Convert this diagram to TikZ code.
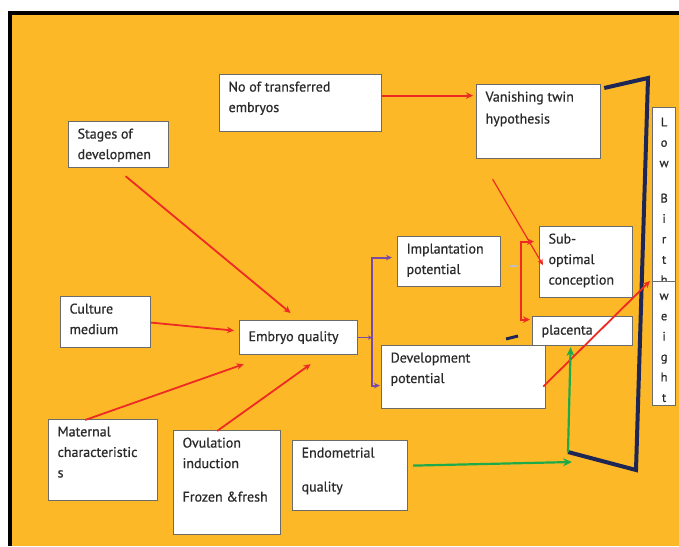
\documentclass[tikz,border=0pt]{standalone}
\usepackage{fontspec}
\setmainfont{PT Sans}[FakeBold=0.6]
\usetikzlibrary{arrows.meta,calc}
\definecolor{bgor}{HTML}{FDB827}
\definecolor{rd}{HTML}{EE2A24}
\definecolor{pu}{HTML}{7A4BA6}
\definecolor{gr}{HTML}{1DAA4A}
\definecolor{nv}{HTML}{1E2656}
\definecolor{bxl}{HTML}{6B6B6B}
\definecolor{txt}{HTML}{2A2A2A}
\newcommand{\bxt}[4]{\parbox[c][#2pt][#3]{#1pt}{\raggedright #4}}
\begin{document}
\begin{tikzpicture}[x=1pt,y=-1pt,
  box/.style={draw=bxl, line width=1.2pt, fill=white, text=txt, inner xsep=9pt, inner ysep=7pt,
    anchor=north west, font=\fontsize{14}{20.5}\selectfont},
  lbw/.style={draw=bxl, line width=1.2pt, fill=white, text=txt, inner xsep=0pt, anchor=north west,
    font=\fontsize{12.5}{20.4}\selectfont},
  ra/.style={draw=rd, line width=1.8pt, -{Stealth[length=7pt,width=6.5pt]}},
  rthin/.style={draw=rd, line width=1.2pt, -{Stealth[length=6pt,width=5.5pt]}},
  rb2/.style={draw=rd, line width=1.8pt, {Stealth[length=7pt,width=6.5pt]}-{Stealth[length=7pt,width=6.5pt]}},
  pa/.style={draw=pu, line width=1.8pt, {Stealth[length=6pt,width=5.5pt]}-{Stealth[length=6pt,width=5.5pt]}},
  pas/.style={draw=pu, line width=1.6pt, -{Stealth[length=4pt,width=4.5pt]}},
  ga/.style={draw=gr, line width=2.2pt, -{Stealth[length=9pt,width=8pt]}},
  nvl/.style={draw=nv, line width=4pt, line join=miter},
]
\useasboundingbox (0,0) rectangle (679,546);
\fill[white] (0,0) rectangle (679,546);
\fill[bgor] (8,11) rectangle (679,546);
\draw[line width=4pt] (10,546) -- (10,13) -- (679,13);

% boxes
\node[box] (trans) at (219,74) {\bxt{144}{43}{t}{No of transferred\\embryos}};
\node[box, font=\fontsize{14}{22}\selectfont] (vanish) at (476,84) {\bxt{106}{60}{t}{Vanishing twin\\hypothesis}};
\node[box] (stages) at (68,121) {\bxt{82}{32}{t}{Stages of\\developmen}};
\node[box] (impl) at (397,236) {\bxt{85}{36}{t}{Implantation\\potential}};
\node[box] (subopt) at (539,226) {\bxt{75}{57}{t}{Sub-\\optimal\\conception}};
\node[box] (culture) at (60,296) {\bxt{72}{37}{t}{Culture\\medium}};
\node[box] (embryo) at (239,320) {\bxt{100}{20}{c}{Embryo quality}};
\node[box] (placenta) at (532,316) {\bxt{82}{15}{c}{placenta}};
\node[box] (devel) at (381,345) {\bxt{146}{49}{t}{Development\\potential}};
\node[box] (mat) at (48,419) {\bxt{91}{67}{t}{Maternal\\characteristic\\s}};
\node[box] (ovul) at (173,430) {\bxt{89}{90}{t}{Ovulation\\induction\\[13pt]Frozen \&fresh}};
\node[box] (endo) at (292,440) {\bxt{97}{56}{t}{Endometrial\\[13.5pt]quality}};
\node[lbw, inner ysep=10pt] (lbwa) at (652,107) {\parbox[c][156pt][t]{23pt}{\centering L\\o\\w\\[15pt]B\\i\\r\\t\\h}};
\node[lbw, inner ysep=12pt] (lbwb) at (652,281) {\parbox[c][100pt][t]{23pt}{\centering w\\e\\i\\g\\h\\t}};

% coordinates
\coordinate (rbx) at (521,0);
\coordinate (pbx) at (372,0);
\coordinate (nv1) at (568,452);
\coordinate (nv2) at (636,470);
\coordinate (nv3) at (648,78);
\coordinate (ge) at (572,462);
\coordinate (nd1) at (506,339);
\coordinate (nd2) at (518,336);
\coordinate (gd1) at (510,266);
\coordinate (gd2) at (517,266);
\coordinate (ra1) at ([shift={(-5,-20.5)}]subopt.west);
\coordinate (ra2) at ([shift={(-2,-11.5)}]placenta.west);
\coordinate (pa1) at ([shift={(-5,-4)}]impl.west);
\coordinate (pa2) at ([shift={(-1,8.5)}]devel.west);

% navy frame lines
\draw[nvl] (nv1) -- (nv2) -- (nv3) -- ([shift={(3,4)}]vanish.north east);
\draw[nv, line width=3pt] (nd1) -- (nd2);
\draw[black!25, line width=1.5pt] (gd1) -- (gd2);

% red arrows
\draw[ra] ([shift={(0,-7.5)}]trans.east) -- ([shift={(-3,-26)}]vanish.west);
\draw[ra] ([shift={(7,8)}]stages.south) -- ([shift={(-8,-7)}]embryo.north);
\draw[ra] ([shift={(0,0.5)}]culture.east) -- ([shift={(-5,-7)}]embryo.west);
\draw[ra] ([shift={(-18,1)}]mat.north) -- ([shift={(-55,9)}]embryo.south);
\draw[ra] ([shift={(-10,1)}]ovul.north) -- ([shift={(12,9)}]embryo.south);
\draw[rthin] ([shift={(-46,20)}]vanish.south) -- ([shift={(4,3)}]subopt.west);
\draw[rb2] (ra1) -- (ra1 -| rbx) -- (ra2 -| rbx) -- (ra2);
\draw[ra] ([shift={(-3,9.5)}]devel.east) -- ([shift={(-2,0)}]lbwb.north west);

% purple
\draw[pa] (pa1) -- (pa1 -| pbx) -- (pa2 -| pbx) -- (pa2);
\draw[pas] (embryo.east) -- (embryo.east -| pbx);

% green
\draw[ga] ([shift={(5,-10)}]endo.east) -- (ge);
\draw[ga] (nv1) -- ([shift={(-12,1)}]placenta.south);
\end{tikzpicture}
\end{document}
